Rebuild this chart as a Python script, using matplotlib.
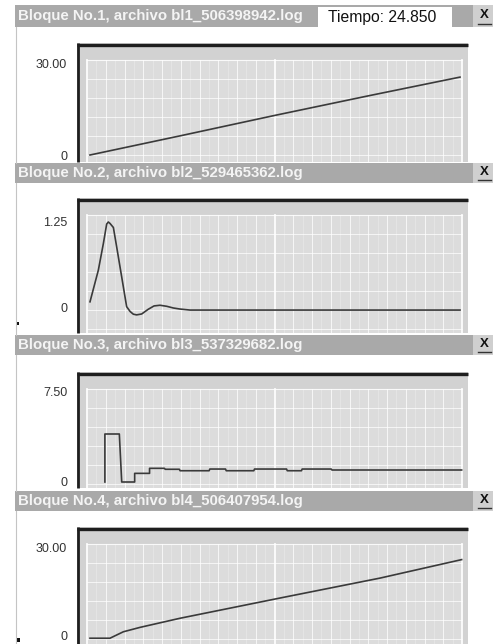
import matplotlib
matplotlib.use("Agg")
import matplotlib.pyplot as plt
from matplotlib.patches import Rectangle
import numpy as np

plt.rcParams["font.family"] = ["Liberation Sans", "DejaVu Sans"]

W, H = 493, 644

# ── datos (t = tiempo, y = valor) ────────────────────────────────────────
titles = ["Bloque No.1, archivo bl1_506398942.log",
          "Bloque No.2, archivo bl2_529465362.log",
          "Bloque No.3, archivo bl3_537329682.log",
          "Bloque No.4, archivo bl4_506407954.log"]
tiempo = "Tiempo: 24.850"

t1 = [0, 6.2, 12.4, 18.6, 24.85]
y1 = [0, 6.4, 12.9, 19.2, 25.4]

t2 = [0, 0.56, 0.9, 1.12, 1.23, 1.34, 1.57, 1.79, 2.13, 2.46, 2.69, 2.91, 3.13, 3.47,
      3.9, 4.3, 4.7, 5.15, 5.6, 6.04, 6.72, 24.85]
y2 = [0.09, 0.55, 0.94, 1.22, 1.25, 1.23, 1.17, 0.89, 0.45, 0.02, -0.05, -0.09, -0.10,
      -0.087, -0.02, 0.03, 0.04, 0.025, 0.0, -0.015, -0.03, -0.03]

t3 = [1.0, 1.0, 1.97, 2.13, 3.0, 3.0, 4.0, 4.0, 5.0, 5.05, 6.0, 6.05, 8.0, 8.05, 9.1,
      9.15, 11.0, 11.05, 13.2, 13.25, 14.2, 14.25, 16.2, 16.25, 24.96]
y3 = [0, 4.0, 4.0, 0, 0, 0.72, 0.72, 1.14, 1.14, 1.06, 1.06, 0.94, 0.94, 1.08, 1.08,
      0.94, 0.94, 1.08, 1.08, 0.94, 0.94, 1.08, 1.08, 1.0, 1.0]

t4 = [0, 1.34, 2.24, 3.36, 6.04, 12.76, 19.48, 24.96]
y4 = [-1.1, -1.1, 1.1, 2.6, 5.7, 12.6, 19.4, 25.7]

series = [(t1, y1), (t2, y2), (t3, y3), (t4, y4)]
ref_vals = [30.0, 1.25, 7.5, 30.0]
ref_labels = ["30.00", "1.25", "7.50", "30.00"]

# ── geometría en píxeles ─────────────────────────────────────────────────
bars = [(5, 27), (163, 183), (335, 355), (491, 511)]
frames = [(43, 162), (198, 333), (372, 488), (527, 644)]
zero_px = [155, 308, 482, 635]
ref_px = [63, 222, 392, 547]
FX0, FX1 = 77, 468          # marco del gráfico
GX0, GX1 = 87, 462          # zona de rejilla
T0PX, TSCALE = 90, 370 / 24.85

BAR, BAR_TXT, FRAME, GRIDBG, DARK = "#a9a9a9", "#f4f4f4", "#d2d2d2", "#dcdcdc", "#1e1e1e"

fig = plt.figure(figsize=(W / 100, H / 100), dpi=100)
bg = fig.add_axes([0, 0, 1, 1])
bg.set_xlim(0, W); bg.set_ylim(H, 0); bg.axis("off")

for i in range(4):
    bt, bb = bars[i]
    ft, fb = frames[i]
    # barra de título
    bg.add_patch(Rectangle((15, bt), W - 15, bb - bt, color=BAR, lw=0))
    bg.add_patch(Rectangle((473, bt), W - 473, bb - bt, color="#cfcfcf", lw=0))
    bg.text(18, (bt + bb) / 2, titles[i], color=BAR_TXT, fontsize=10.8, weight="bold",
            ha="left", va="center")
    bg.text(484, (bt + bb) / 2 - 1, "X", color="#111", fontsize=9.5, weight="bold",
            ha="center", va="center")
    bg.plot([478, 491], [bb - 3, bb - 3], color="#333", lw=1)
    if i == 0:
        bg.add_patch(Rectangle((318, bt + 2), 134, bb - bt - 2, color="white", lw=0))
        bg.text(328, (bt + bb) / 2 + 1, tiempo, color="#111", fontsize=11.3,
                ha="left", va="center")
    # borde izquierdo de la ventana
    bg.plot([16, 16], [bb, (bars[i + 1][0] if i < 3 else H)], color="#c4c4c4", lw=0.8)
    # marco y rejilla
    bg.add_patch(Rectangle((FX0, ft), FX1 - FX0, fb - ft, color=FRAME, lw=0))
    gt = ft + 17
    bg.add_patch(Rectangle((GX0, gt), GX1 - GX0, fb - gt, color=GRIDBG, lw=0))
    xs = np.linspace(GX0, GX1, 21)
    for k, x in enumerate(xs):
        major = k in (0, 10, 20)
        bg.plot([x, x], [gt, fb], color="white", lw=1.3 if major else 0.7,
                alpha=0.95 if major else 0.75)
    for x in (xs[:-1] + xs[1:]) / 2:
        bg.plot([x, x], [gt, fb], color="white", lw=0.4, alpha=0.45)
    for y in np.arange(gt, fb, 19):
        bg.plot([GX0, GX1], [y, y], color="white", lw=0.8 if y == gt else 0.6, alpha=0.85)
    bg.plot([FX0, FX1], [ft + 1.5, ft + 1.5], color=DARK, lw=2.4, solid_capstyle="butt")
    bg.plot([FX0 + 1.3, FX0 + 1.3], [ft, fb], color=DARK, lw=2.0, solid_capstyle="butt")

# pequeñas marcas negras a la izquierda
bg.add_patch(Rectangle((16, 322), 3, 3, color="#111", lw=0))
bg.add_patch(Rectangle((17, 638), 3, 4, color="#111", lw=0))

# ── curvas ───────────────────────────────────────────────────────────────
for i, (t, y) in enumerate(series):
    ft, fb = frames[i]
    ax = fig.add_axes([FX0 / W, 1 - fb / H, (FX1 - FX0) / W, (fb - ft) / H])
    ax.patch.set_alpha(0)
    unit = (zero_px[i] - ref_px[i]) / ref_vals[i]
    ax.set_ylim(-(fb - zero_px[i]) / unit, (zero_px[i] - ft) / unit)
    ax.set_xlim((FX0 - T0PX) / TSCALE, (FX1 - T0PX) / TSCALE)
    ax.plot(t, y, color="#3a3a3a", lw=1.2)
    for s in ax.spines.values():
        s.set_visible(False)
    ax.set_xticks([])
    ax.set_yticks([0, ref_vals[i]])
    ax.set_yticklabels(["0", ref_labels[i]])
    ax.tick_params(axis="y", length=0, pad=7, labelsize=9, labelcolor="#333")

fig.savefig("out.png", dpi=100)
